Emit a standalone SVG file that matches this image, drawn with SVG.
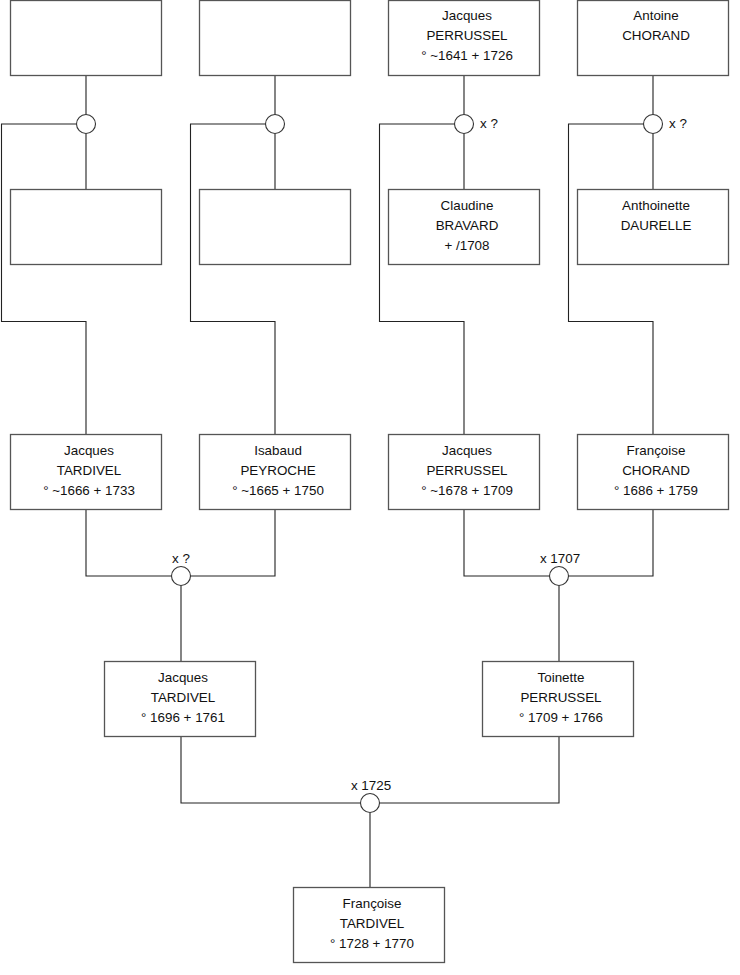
<svg xmlns="http://www.w3.org/2000/svg" width="740" height="975" viewBox="0 0 740 975">
<style>
.box{fill:#fff;stroke:#555;stroke-width:1.3}
.ln{fill:none;stroke:#222;stroke-width:1.1}
.ring{fill:#fff;stroke:#333;stroke-width:1.1}
text{font-family:"Liberation Sans",Arial,sans-serif;font-size:13.4px;fill:#111}
.c{text-anchor:middle}
</style>
<rect width="740" height="975" fill="#fff"/>
<g id="connectors">
<path class="ln" d="M86 75.5V114.5M86 133.5V189.5M76.5 124H1.5V321.5H86V434.5"/>
<path class="ln" d="M275 75.5V114.5M275 133.5V189.5M265.5 124H190.5V321.5H275V434.5"/>
<path class="ln" d="M464 75.5V114.5M464 133.5V189.5M454.5 124H379.5V321.5H464V434.5"/>
<path class="ln" d="M653 75.5V114.5M653 133.5V189.5M643.5 124H568.5V321.5H653V434.5"/>
<path class="ln" d="M86 509.5V576H171.5M190.5 576H275V509.5M181 585.5V661.5"/>
<path class="ln" d="M464 509.5V576H549.5M568.5 576H653V509.5M559 585.5V661.5"/>
<path class="ln" d="M181 736.5V803H360.5M379.5 803H559V736.5M370 812.5V887.5"/>
<circle class="ring" cx="86" cy="124" r="9.5"/>
<circle class="ring" cx="275" cy="124" r="9.5"/>
<circle class="ring" cx="464" cy="124" r="9.5"/>
<circle class="ring" cx="653" cy="124" r="9.5"/>
<circle class="ring" cx="181" cy="576" r="9.5"/>
<circle class="ring" cx="559" cy="576" r="9.5"/>
<circle class="ring" cx="370" cy="803" r="9.5"/>
<text x="480" y="128">x ?</text>
<text x="669" y="128">x ?</text>
<text class="c" x="181" y="563">x ?</text>
<text class="c" x="560" y="563">x 1707</text>
<text class="c" x="371" y="790">x 1725</text>
</g>
<g id="n1"><rect class="box" x="10.5" y="0.5" width="151" height="75"/></g>
<g id="n2"><rect class="box" x="199.5" y="0.5" width="151" height="75"/></g>
<g id="n3"><rect class="box" x="388.5" y="0.5" width="151" height="75"/>
<text class="c" x="467" y="20">Jacques</text><text class="c" x="467" y="40">PERRUSSEL</text><text class="c" x="467" y="60">° ~1641 + 1726</text></g>
<g id="n4"><rect class="box" x="577.5" y="0.5" width="151" height="75"/>
<text class="c" x="656" y="20">Antoine</text><text class="c" x="656" y="40">CHORAND</text></g>
<g id="n5"><rect class="box" x="10.5" y="189.5" width="151" height="75"/></g>
<g id="n6"><rect class="box" x="199.5" y="189.5" width="151" height="75"/></g>
<g id="n7"><rect class="box" x="388.5" y="189.5" width="151" height="75"/>
<text class="c" x="467" y="210">Claudine</text><text class="c" x="467" y="230">BRAVARD</text><text class="c" x="467" y="250">+ /1708</text></g>
<g id="n8"><rect class="box" x="577.5" y="189.5" width="151" height="75"/>
<text class="c" x="656" y="210">Anthoinette</text><text class="c" x="656" y="230">DAURELLE</text></g>
<g id="n9"><rect class="box" x="10.5" y="434.5" width="151" height="75"/>
<text class="c" x="89" y="455">Jacques</text><text class="c" x="89" y="475">TARDIVEL</text><text class="c" x="89" y="495">° ~1666 + 1733</text></g>
<g id="n10"><rect class="box" x="199.5" y="434.5" width="151" height="75"/>
<text class="c" x="278" y="455">Isabaud</text><text class="c" x="278" y="475">PEYROCHE</text><text class="c" x="278" y="495">° ~1665 + 1750</text></g>
<g id="n11"><rect class="box" x="388.5" y="434.5" width="151" height="75"/>
<text class="c" x="467" y="455">Jacques</text><text class="c" x="467" y="475">PERRUSSEL</text><text class="c" x="467" y="495">° ~1678 + 1709</text></g>
<g id="n12"><rect class="box" x="577.5" y="434.5" width="151" height="75"/>
<text class="c" x="656" y="455">Françoise</text><text class="c" x="656" y="475">CHORAND</text><text class="c" x="656" y="495">° 1686 + 1759</text></g>
<g id="n13"><rect class="box" x="104.5" y="661.5" width="151" height="75"/>
<text class="c" x="183" y="682">Jacques</text><text class="c" x="183" y="702">TARDIVEL</text><text class="c" x="183" y="722">° 1696 + 1761</text></g>
<g id="n14"><rect class="box" x="482.5" y="661.5" width="151" height="75"/>
<text class="c" x="561" y="682">Toinette</text><text class="c" x="561" y="702">PERRUSSEL</text><text class="c" x="561" y="722">° 1709 + 1766</text></g>
<g id="n15"><rect class="box" x="293.5" y="887.5" width="151" height="75"/>
<text class="c" x="372" y="908">Françoise</text><text class="c" x="372" y="928">TARDIVEL</text><text class="c" x="372" y="948">° 1728 + 1770</text></g>
</svg>
